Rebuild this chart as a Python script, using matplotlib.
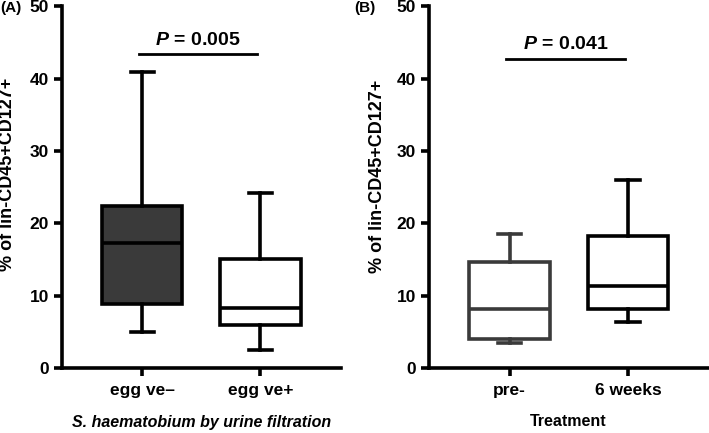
import matplotlib
matplotlib.use("Agg")
import matplotlib.pyplot as plt

plt.rcParams["font.family"] = ["Liberation Sans", "DejaVu Sans"]
plt.rcParams["font.weight"] = "bold"
plt.rcParams["mathtext.fontset"] = "custom"
plt.rcParams["mathtext.bfit"] = "Liberation Sans:italic:bold"

# panel A: S. haematobium egg status
a_labels = ["egg ve\u2013", "egg ve+"]
a_whislo = [5.0, 2.5]
a_q1 = [8.8, 5.95]
a_med = [17.3, 8.3]
a_q3 = [22.45, 15.1]
a_whishi = [41.0, 24.25]
a_pval = "0.005"
a_pbar_y = 43.4

# panel B: treatment
b_labels = ["pre-", "6 weeks"]
b_whislo = [3.4, 6.3]
b_q1 = [4.0, 8.1]
b_med = [8.1, 11.3]
b_q3 = [14.6, 18.3]
b_whishi = [18.5, 25.95]
b_pval = "0.041"
b_pbar_y = 42.8

ylabel = "% of lin-CD45+CD127+"
LW = 2.6


def draw_panel(ax, labels, whislo, q1, med, q3, whishi, edge, fill, pval, pbar_y, xlim):
    stats = []
    for i in range(len(labels)):
        stats.append(dict(label=labels[i], whislo=whislo[i], q1=q1[i], med=med[i],
                          q3=q3[i], whishi=whishi[i], fliers=[]))
    bp = ax.bxp(stats, positions=[1, 2], widths=0.68, patch_artist=True,
                showfliers=False)
    for i, box in enumerate(bp["boxes"]):
        box.set_facecolor(fill[i])
        box.set_edgecolor(edge[i])
        box.set_linewidth(LW)
        bp["medians"][i].set_color(edge[i])
        bp["medians"][i].set_linewidth(LW)
        for j in (2 * i, 2 * i + 1):
            bp["whiskers"][j].set_color(edge[i])
            bp["whiskers"][j].set_linewidth(LW)
            bp["caps"][j].set_color(edge[i])
            bp["caps"][j].set_linewidth(LW)
            bp["caps"][j].set_xdata([i + 1 - 0.1, i + 1 + 0.1])

    ax.set_xlim(*xlim)
    ax.set_ylim(0, 50)
    ax.set_yticks([0, 10, 20, 30, 40, 50])
    ax.set_xticks([1, 2], labels=labels)
    for s in ("top", "right"):
        ax.spines[s].set_visible(False)
    for s in ("left", "bottom"):
        ax.spines[s].set_linewidth(LW)
    ax.tick_params(width=LW, length=6, labelsize=12.5)
    ax.tick_params(axis="x", pad=5)
    ax.set_ylabel(ylabel, fontsize=13, fontweight="bold")

    ax.plot([1 - 0.03, 2 - 0.03], [pbar_y, pbar_y], color="black", lw=2.0,
            clip_on=False)
    ax.text(1.47, pbar_y + 0.7, r"$\boldsymbol{P}$ = " + pval, ha="center",
            va="bottom", fontsize=14, fontweight="bold")


fig = plt.figure(figsize=(7.09, 4.33), dpi=100)
ax1 = fig.add_axes([0.0875, 0.150, 0.393, 0.835])
ax2 = fig.add_axes([0.605, 0.150, 0.393, 0.835])

draw_panel(ax1, a_labels, a_whislo, a_q1, a_med, a_q3, a_whishi,
           ["black", "black"], ["#3a3a3a", "white"], a_pval, a_pbar_y,
           (0.32, 2.68))
draw_panel(ax2, b_labels, b_whislo, b_q1, b_med, b_q3, b_whishi,
           ["#3a3a3a", "black"], ["white", "white"], b_pval, b_pbar_y,
           (0.32, 2.67))

ax1.yaxis.set_label_coords(-0.167, 0.535)
ax2.yaxis.set_label_coords(-0.155, 0.53)

ax1.set_xlabel("S. haematobium by urine filtration", fontsize=11.5,
               fontweight="bold", style="italic", labelpad=12)
ax2.set_xlabel("Treatment", fontsize=11.5, fontweight="bold", labelpad=11)

fig.text(0.0, 0.981, "(A)", fontsize=11, fontweight="bold", va="center")
fig.text(0.500, 0.981, "(B)", fontsize=11, fontweight="bold", va="center")

fig.savefig("out.png", dpi=100)
